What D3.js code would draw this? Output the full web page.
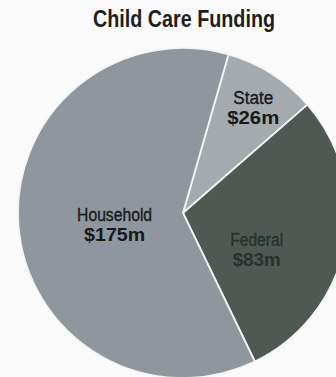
<!DOCTYPE html>
<html>
<head>
<meta charset="utf-8">
<script src="https://cdn.jsdelivr.net/npm/d3@7"></script>
<style>
  html, body { margin: 0; padding: 0; background: #fafafa; }
  svg { display: block; }
</style>
</head>
<body>
<svg id="chart" width="336" height="377"></svg>
<script>
// Child care funding sources, in millions of dollars
const categories = ["State", "Federal", "Household"];
const values = [26, 83, 175];
const valueLabels = ["$26m", "$83m", "$175m"];

// Slice fills
const fills = { State: "#a5aaae", Federal: "#505854", Household: "#8f969d" };
const textFills = { State: "#161a1c", Federal: "#2a302d", Household: "#161a1c" };
// Label placement: distance from centre and angular nudge (degrees)
const labelPlace = {
  State: { r: 129, da: 0.5 },
  Federal: { r: 81, da: 13 },
  Household: { r: 69, da: -2.6 }
};
// Label widths for the condensed face
const nameWidths = { State: 40, Federal: 53, Household: 75 };
const valueWidths = { State: 52, Federal: 48, Household: 61 };

const svg = d3.select("#chart");
const cx = 183, cy = 213, R = 165;
const start = 16 * Math.PI / 180;
const font = "'Liberation Sans Narrow', 'Arial Narrow', 'Liberation Sans', sans-serif";

svg.append("text")
  .attr("x", 184)
  .attr("y", 27)
  .attr("text-anchor", "middle")
  .attr("font-family", font)
  .attr("font-weight", "bold")
  .attr("font-size", 23)
  .attr("fill", "#1e1e1e")
  .attr("textLength", 182)
  .attr("lengthAdjust", "spacingAndGlyphs")
  .text("Child Care Funding");

const data = categories.map((c, i) => ({ name: c, value: values[i], label: valueLabels[i] }));

const pie = d3.pie()
  .sort(null)
  .value(d => d.value)
  .startAngle(start)
  .endAngle(start + 2 * Math.PI);

const arcs = pie(data);
const arc = d3.arc().innerRadius(0).outerRadius(R);

const g = svg.append("g").attr("transform", `translate(${cx},${cy})`);

g.selectAll("path.slice")
  .data(arcs)
  .join("path")
  .attr("class", "slice")
  .attr("d", arc)
  .attr("fill", d => fills[d.data.name])
  .attr("stroke", "#f4f4f2")
  .attr("stroke-width", 1.8)
  .attr("stroke-linejoin", "miter");

const labels = g.selectAll("g.label")
  .data(arcs)
  .join("g")
  .attr("class", "label")
  .attr("transform", d => {
    const p = labelPlace[d.data.name];
    const a = (d.startAngle + d.endAngle) / 2 + p.da * Math.PI / 180;
    return `translate(${Math.sin(a) * p.r},${-Math.cos(a) * p.r})`;
  });

labels.append("text")
  .attr("text-anchor", "middle")
  .attr("y", -1)
  .attr("font-family", font)
  .attr("font-size", 18)
  .attr("fill", d => textFills[d.data.name])
  .attr("stroke", d => textFills[d.data.name])
  .attr("stroke-width", 0.35)
  .attr("textLength", d => nameWidths[d.data.name])
  .attr("lengthAdjust", "spacingAndGlyphs")
  .text(d => d.data.name);

labels.append("text")
  .attr("text-anchor", "middle")
  .attr("y", 19)
  .attr("font-family", font)
  .attr("font-weight", "bold")
  .attr("font-size", 19)
  .attr("fill", d => textFills[d.data.name])
  .attr("textLength", d => valueWidths[d.data.name])
  .attr("lengthAdjust", "spacingAndGlyphs")
  .text(d => d.data.label);
</script>
</body>
</html>
